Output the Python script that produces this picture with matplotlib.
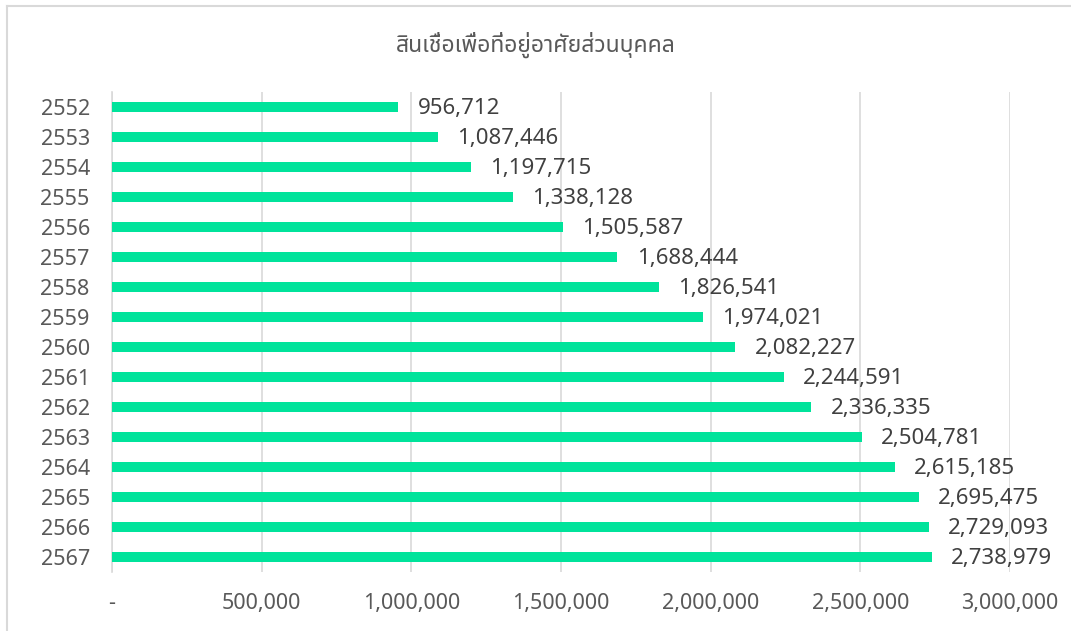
import matplotlib
matplotlib.use("Agg")
import matplotlib.pyplot as plt
from matplotlib.lines import Line2D
from matplotlib.ticker import FuncFormatter

years = ["2552", "2553", "2554", "2555", "2556", "2557", "2558", "2559",
         "2560", "2561", "2562", "2563", "2564", "2565", "2566", "2567"]
loans = [956712, 1087446, 1197715, 1338128, 1505587, 1688444, 1826541, 1974021,
         2082227, 2244591, 2336335, 2504781, 2615185, 2695475, 2729093, 2738979]
x_ticks = [0, 500000, 1000000, 1500000, 2000000, 2500000, 3000000]
title = "สินเชื่อเพื่อที่อยู่อาศัยส่วนบุคคล"

FONTS = ["Noto Sans", "Noto Sans Thai", "Loma", "Garuda", "DejaVu Sans"]
plt.rcParams["font.family"] = FONTS

BAR = "#00e39b"
GRID = "#d9d9d9"
TXT = "#595959"
LBL = "#404040"

fig = plt.figure(figsize=(10.71, 6.31), dpi=100)
fig.patch.set_facecolor("white")
ax = fig.add_axes([112 / 1071, 1 - 572 / 631, (1010 - 112) / 1071, 480 / 631])

pos = list(range(len(years)))
ax.barh(pos, loans, height=0.34, color=BAR, zorder=3)
ax.set_ylim(len(years) - 0.5, -0.5)
ax.set_xlim(0, 3000000)
ax.set_yticks(pos)
ax.set_yticklabels(years)
ax.set_xticks(x_ticks)
ax.xaxis.set_major_formatter(FuncFormatter(lambda v, _: "-" if v == 0 else f"{int(v):,}"))
ax.tick_params(axis="both", length=0, labelsize=15.5, colors=TXT)
ax.tick_params(axis="x", pad=15)
ax.tick_params(axis="y", pad=16)
ax.grid(axis="x", color=GRID, linewidth=1.2, zorder=0)
for s in ["top", "right", "bottom"]:
    ax.spines[s].set_visible(False)
ax.spines["left"].set_color(GRID)
ax.spines["left"].set_linewidth(1.2)

for p, v in zip(pos, loans):
    ax.annotate(f"{v:,}", (v, p), xytext=(14, -1), textcoords="offset points",
                ha="left", va="center", fontsize=16, color=LBL, zorder=4)

fig.text(0.5, 1 - 45 / 631, title, ha="center", va="center", fontsize=16.5, color=TXT)

# outer chart border (left and top edges visible)
fig.add_artist(Line2D([7 / 1071, 7 / 1071], [0, 1 - 6 / 631], transform=fig.transFigure,
                      color="#d9d9d9", linewidth=1.5))
fig.add_artist(Line2D([7 / 1071, 1], [1 - 6 / 631, 1 - 6 / 631], transform=fig.transFigure,
                      color="#d9d9d9", linewidth=1.5))

fig.savefig("out.png", dpi=100, facecolor="white")
